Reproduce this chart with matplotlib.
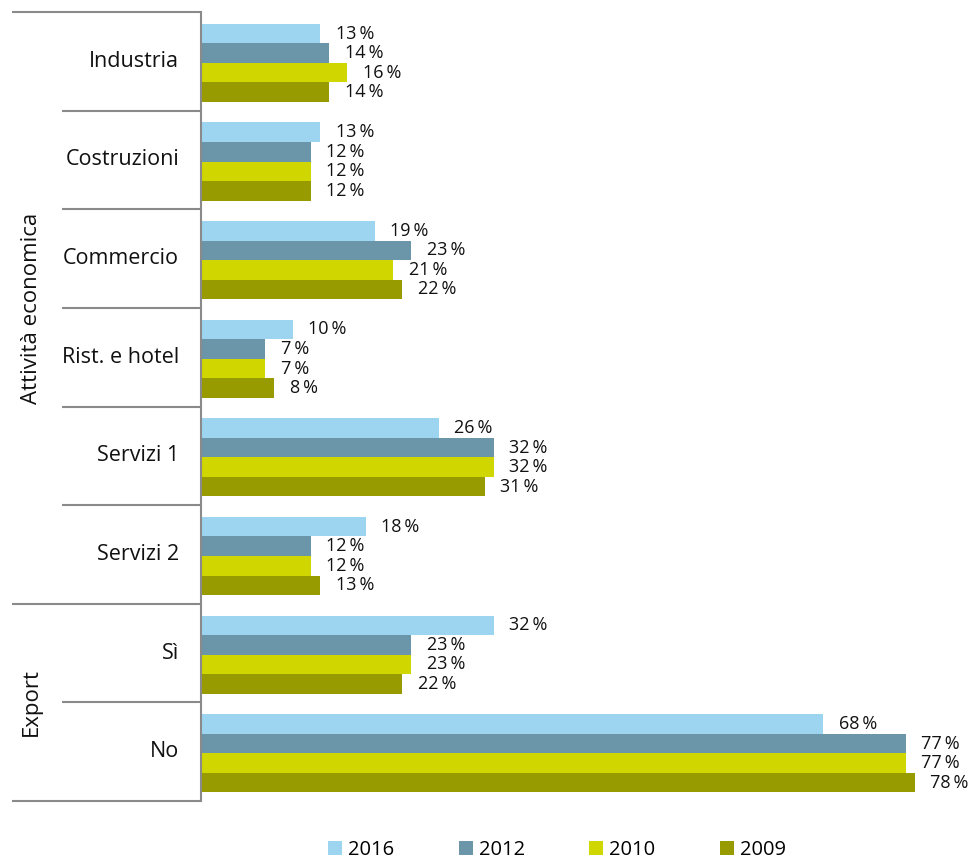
import matplotlib.pyplot as plt
from matplotlib.patches import Patch

plt.rcParams['font.family'] = ['Open Sans', 'DejaVu Sans']

# Categorie e valori (%)
categorie = ["Industria", "Costruzioni", "Commercio", "Rist. e hotel",
             "Servizi 1", "Servizi 2", "Sì", "No"]
anni = ["2016", "2012", "2010", "2009"]
v2016 = [13, 13, 19, 10, 26, 18, 32, 68]
v2012 = [14, 12, 23, 7, 32, 12, 23, 77]
v2010 = [16, 12, 21, 7, 32, 12, 23, 77]
v2009 = [14, 12, 22, 8, 31, 13, 22, 78]
serie = [v2016, v2012, v2010, v2009]
colori = ["#9dd5f0", "#6b95a8", "#d0d600", "#989b00"]

W, H = 973, 859
fig = plt.figure(figsize=(W / 100, H / 100), dpi=100)
ax = fig.add_axes([201 / W, 1 - 801 / H, 732 / W, 789 / H])

h = 0.198
start = 0.12
for j, (vals, col) in enumerate(zip(serie, colori)):
    for i, v in enumerate(vals):
        y = i + start + j * h
        ax.barh(y, v, height=h, align="edge", color=col, edgecolor="none")
        ax.text(v + 1.7, y + h / 2, f"{v}\u2009%", va="center", ha="left",
                fontsize=13, color="#111111")

ax.set_xlim(0, 80)
ax.set_ylim(len(categorie), 0)
ax.set_xticks([])
ax.set_yticks([])
for s in ["top", "right", "bottom"]:
    ax.spines[s].set_visible(False)
ax.spines["left"].set_color("#8a8a8a")
ax.spines["left"].set_linewidth(1.5)

# Linee di separazione sull'asse delle categorie
tr = ax.get_yaxis_transform()
for k in range(len(categorie) + 1):
    x0 = -0.258 if k in (0, 6, 8) else -0.19
    ax.plot([x0, 0], [k, k], transform=tr, color="#8a8a8a", lw=1.5,
            clip_on=False, solid_capstyle="butt")

for i, c in enumerate(categorie):
    ax.text(-0.03, i + 0.5, c, transform=tr, ha="right", va="center",
            fontsize=15.5, color="#111111")

ax.text(-0.232, 3, "Attività economica", transform=tr, rotation=90,
        ha="center", va="center", fontsize=16, color="#111111")
ax.text(-0.232, 7, "Export", transform=tr, rotation=90,
        ha="center", va="center", fontsize=16, color="#111111")

handles = [Patch(facecolor=c, edgecolor="none") for c in colori]
fig.legend(handles, anni, loc="center", ncol=4, frameon=False,
           bbox_to_anchor=(557 / W, 1 - 850 / H), fontsize=14.5,
           handlelength=0.7, handleheight=0.7, handletextpad=0.3,
           columnspacing=3.2)

fig.savefig("out.png", dpi=100)
